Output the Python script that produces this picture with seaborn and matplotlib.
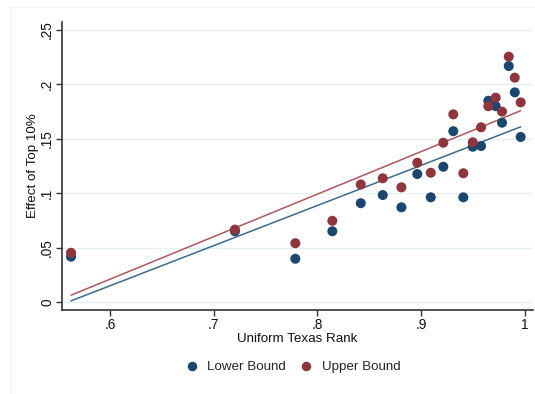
import numpy as np
import pandas as pd
import matplotlib
matplotlib.use("Agg")
import matplotlib.pyplot as plt
import seaborn as sns
from matplotlib.ticker import FuncFormatter

rank = [0.5624, 0.7205, 0.7787, 0.8144, 0.8418, 0.8630, 0.8810, 0.8963, 0.9093, 0.9214,
        0.9310, 0.9407, 0.9498, 0.9578, 0.9648, 0.9719, 0.9780, 0.9845, 0.9903, 0.9960]
lower = [0.0416, 0.0650, 0.0397, 0.0650, 0.0908, 0.0983, 0.0870, 0.1176, 0.0962, 0.1243,
         0.1570, 0.0962, 0.1427, 0.1434, 0.1850, 0.1800, 0.1648, 0.2169, 0.1927, 0.1517]
upper = [0.0452, 0.0665, 0.0540, 0.0746, 0.1080, 0.1137, 0.1054, 0.1280, 0.1188, 0.1464,
         0.1725, 0.1183, 0.1468, 0.1606, 0.1800, 0.1878, 0.1750, 0.2255, 0.2062, 0.1835]
# fitted lines (values at the first and last rank)
fit_rank = [0.5624, 0.9960]
fit_lower = [0.0010, 0.1610]
fit_upper = [0.0062, 0.1758]
series = ["Lower Bound", "Upper Bound"]
xticks = [0.6, 0.7, 0.8, 0.9, 1.0]
yticks = [0, 0.05, 0.1, 0.15, 0.2, 0.25]

df = pd.DataFrame({
    "rank": rank + rank,
    "effect": lower + upper,
    "bound": [series[0]] * len(rank) + [series[1]] * len(rank),
})
fit_df = pd.DataFrame({
    "rank": fit_rank + fit_rank,
    "effect": fit_lower + fit_upper,
    "bound": [series[0]] * 2 + [series[1]] * 2,
})

sns.set_style("white")
plt.rcParams["font.family"] = ["Liberation Sans", "DejaVu Sans"]

colors = {"Lower Bound": "#1a476f", "Upper Bound": "#90353b"}
line_colors = {"Lower Bound": "#3b6a92", "Upper Bound": "#b0575c"}

fig = plt.figure(figsize=(5.35, 3.94), dpi=100)
ax = fig.add_axes([0.1153, 0.2132, 0.8810, 0.7310])

for yt in yticks:
    ax.axhline(yt, color="#e6eef0", lw=0.9, zorder=0)

sns.lineplot(data=fit_df, x="rank", y="effect", hue="bound", palette=line_colors,
             lw=1.1, legend=False, ax=ax, zorder=2)

sns.scatterplot(data=df, x="rank", y="effect", hue="bound", palette=colors,
                s=52, edgecolor="none", ax=ax, legend=True, zorder=3)

ax.set_xlim(0.5534, 1.0079)
ax.set_ylim(-0.0074, 0.2574)
ax.set_xticks(xticks)
ax.set_yticks(yticks)

def fmt(v, pos):
    if abs(v) < 1e-9:
        return "0"
    if abs(v - 1) < 1e-9:
        return "1"
    s = ("%.2f" % v).rstrip("0")
    return s.lstrip("0")

ax.xaxis.set_major_formatter(FuncFormatter(fmt))
ax.yaxis.set_major_formatter(FuncFormatter(fmt))
ax.tick_params(axis="both", direction="out", length=4, width=1.0, color="#333333",
               labelsize=9.8, labelcolor="#111111", pad=1.5, left=True, bottom=True)
for lab in ax.get_yticklabels():
    lab.set_rotation(90)
    lab.set_va("center")

for sp in ["top", "right"]:
    ax.spines[sp].set_visible(False)
for sp in ["left", "bottom"]:
    ax.spines[sp].set_color("#333333")
    ax.spines[sp].set_linewidth(1.2)

ax.set_xlabel("Uniform Texas Rank", fontsize=9.6, color="#111111", labelpad=1)
ax.set_ylabel("Effect of Top 10%", fontsize=9.6, color="#111111", labelpad=1)

handles, labels = ax.get_legend_handles_labels()
ax.legend(handles=handles, labels=labels, loc="center", bbox_to_anchor=(0.483, -0.198),
          ncol=2, frameon=False, fontsize=9.6, handletextpad=0.15, columnspacing=0.55,
          markerscale=0.95)

fig.patches.append(plt.Rectangle((0.018, -0.01), 1.0, 0.992, transform=fig.transFigure,
                                 fill=False, edgecolor="#f0f3f4", lw=0.8))

fig.savefig("out.png", dpi=100)
